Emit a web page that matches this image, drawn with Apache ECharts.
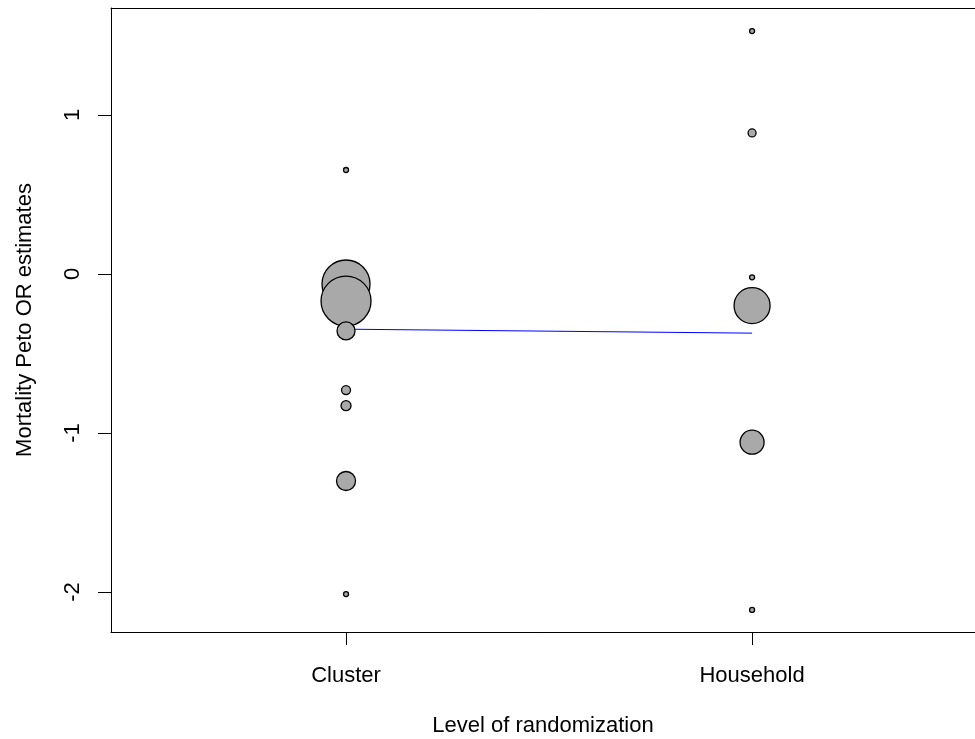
<!DOCTYPE html>
<html>
<head>
<meta charset="utf-8">
<script src="https://cdn.jsdelivr.net/npm/echarts@6/dist/echarts.min.js"></script>
<style>
  html, body { margin: 0; padding: 0; background: #fff; }
  #chart { width: 975px; height: 739px; }
</style>
</head>
<body>
<div id="chart"></div>
<script>
// Levels of randomization (x positions 1 and 2)
const categories = ['Cluster', 'Household'];
const yTicks = [-2, -1, 0, 1];

// Mortality Peto OR estimates per trial, with bubble diameters (study weights)
const clusterEstimates = [0.654, -0.063, -0.170, -0.358, -0.730, -0.828, -1.302, -2.013];
const clusterWeights   = [5, 48, 50, 18, 9, 10, 19, 5];
const householdEstimates = [1.528, 0.887, -0.021, -0.199, -1.058, -2.113];
const householdWeights   = [5, 8, 5, 36, 24, 5];

// Fitted meta-regression line at each level
const fittedValues = [-0.347, -0.372];

const FONT = 'Liberation Sans, Arial, sans-serif';
const X_MIN = 0.4212, X_MAX = 2.549;

const pointData = [];
clusterEstimates.forEach((v, i) => pointData.push([1, v, clusterWeights[i]]));
householdEstimates.forEach((v, i) => pointData.push([2, v, householdWeights[i]]));

const chart = echarts.init(document.getElementById('chart'));
chart.setOption({
  animation: false,
  backgroundColor: '#fff',
  grid: {
    left: 111, top: 8, right: 0, bottom: 107,
    show: false, containLabel: false, outerBoundsMode: 'none'
  },
  xAxis: [
    {
      type: 'value',
      min: X_MIN, max: X_MAX,
      position: 'bottom',
      splitLine: { show: false },
      axisLine: { show: true, onZero: false, lineStyle: { color: '#000', width: 1 } },
      axisTick: { show: true, length: 13, customValues: [1, 2], lineStyle: { color: '#000' } },
      axisLabel: {
        customValues: [1, 2],
        formatter: v => categories[Math.round(v) - 1],
        color: '#000', fontFamily: FONT, fontSize: 22, margin: 33
      },
      name: 'Level of randomization',
      nameLocation: 'middle',
      nameGap: 83,
      nameTextStyle: { color: '#000', fontFamily: FONT, fontSize: 22 }
    },
    {
      // top frame line of the plot box
      type: 'value',
      min: X_MIN, max: X_MAX,
      position: 'top',
      splitLine: { show: false },
      axisLine: { show: true, onZero: false, lineStyle: { color: '#000', width: 1 } },
      axisTick: { show: false },
      axisLabel: { show: false }
    }
  ],
  yAxis: {
    type: 'value',
    min: -2.2516, max: 1.673,
    splitLine: { show: false },
    axisLine: { show: true, onZero: false, lineStyle: { color: '#000', width: 1 } },
    axisTick: { show: true, length: 13, customValues: yTicks, lineStyle: { color: '#000' } },
    axisLabel: {
      customValues: yTicks,
      rotate: 90,
      color: '#000', fontFamily: FONT, fontSize: 22, margin: 27
    },
    name: 'Mortality Peto OR estimates',
    nameLocation: 'middle',
    nameGap: 75,
    nameTextStyle: { color: '#000', fontFamily: FONT, fontSize: 22 }
  },
  series: [
    {
      type: 'line',
      data: [[1, fittedValues[0]], [2, fittedValues[1]]],
      showSymbol: false,
      symbol: 'none',
      lineStyle: { color: '#0000FF', width: 1 },
      z: 1,
      silent: true
    },
    {
      type: 'scatter',
      data: pointData,
      symbolSize: v => v[2],
      itemStyle: { color: '#A9A9A9', borderColor: '#000', borderWidth: 1.3, opacity: 1 },
      z: 2,
      silent: true
    }
  ]
});
</script>
</body>
</html>
